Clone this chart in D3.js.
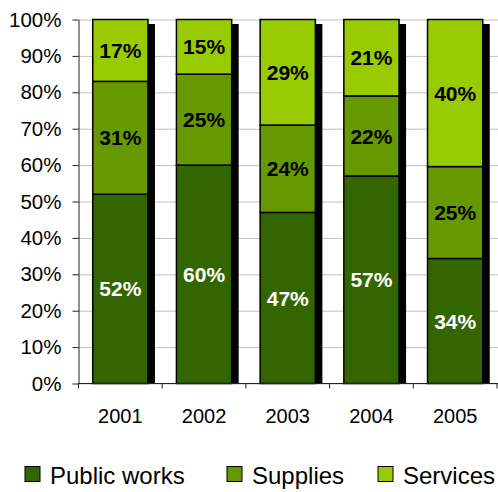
<!DOCTYPE html>
<html>
<head>
<meta charset="utf-8">
<script src="https://cdn.jsdelivr.net/npm/d3@7"></script>
<style>
  html, body { margin: 0; padding: 0; background: #fff; }
  svg { display: block; font-family: "Liberation Sans", Arial, sans-serif; }
</style>
</head>
<body>
<svg id="chart" width="498" height="492"></svg>
<script>
// Share of spending by category, per year (percent)
const years = ["2001", "2002", "2003", "2004", "2005"];
const publicWorks = [52, 60, 47, 57, 34];
const supplies = [31, 25, 24, 22, 25];
const services = [17, 15, 29, 21, 40];
const seriesNames = ["Public works", "Supplies", "Services"];
const seriesKeys = ["publicWorks", "supplies", "services"];
const yTickValues = [0, 0.1, 0.2, 0.3, 0.4, 0.5, 0.6, 0.7, 0.8, 0.9, 1];

const colors = ["#336600", "#669900", "#99cc00"];
const labelColors = ["#ffffff", "#000000", "#000000"];

const rows = years.map((year, i) => ({
  year,
  publicWorks: publicWorks[i],
  supplies: supplies[i],
  services: services[i]
}));

const svg = d3.select("#chart");
const plotLeft = 78.5, plotRight = 497, plotTop = 19.5, plotBottom = 383.5;

const x = d3.scaleBand().domain(years).range([plotLeft, plotRight])
  .paddingInner(0.34).paddingOuter(0.17);
const y = d3.scaleLinear().domain([0, 1]).range([plotBottom, plotTop]);

// 100% stacked layout
const stacked = d3.stack().keys(seriesKeys).offset(d3.stackOffsetExpand)(rows);

// horizontal gridlines
svg.append("g")
  .attr("transform", `translate(${plotLeft},0)`)
  .call(d3.axisLeft(y).tickValues(yTickValues).tickSize(-(498 - plotLeft)).tickFormat(""))
  .call(g => g.select(".domain").remove())
  .call(g => g.selectAll("line").attr("stroke", "#c0c0c0").attr("stroke-width", 1));

// bar drop shadows
const shadowDx = 7, shadowDy = 4.5;
svg.append("g")
  .selectAll("rect")
  .data(rows)
  .join("rect")
  .attr("x", d => x(d.year) + shadowDx)
  .attr("y", y(1) + shadowDy)
  .attr("width", x.bandwidth())
  .attr("height", y(0) - y(1) - shadowDy)
  .attr("fill", "#000");

// stacked segments
const layers = svg.append("g")
  .selectAll("g")
  .data(stacked)
  .join("g")
  .attr("fill", (d, i) => colors[i]);

layers.selectAll("rect")
  .data(d => d)
  .join("rect")
  .attr("x", d => x(d.data.year))
  .attr("y", d => y(d[1]))
  .attr("width", x.bandwidth())
  .attr("height", d => y(d[0]) - y(d[1]))
  .attr("stroke", "#000")
  .attr("stroke-width", 1.5);

// value labels
stacked.forEach((layer, li) => {
  svg.append("g")
    .selectAll("text")
    .data(layer)
    .join("text")
    .attr("x", d => x(d.data.year) + x.bandwidth() / 2)
    .attr("y", d => (y(d[0]) + y(d[1])) / 2)
    .attr("dy", "0.36em")
    .attr("text-anchor", "middle")
    .attr("font-size", 21)
    .attr("font-weight", "bold")
    .attr("fill", labelColors[li])
    .text(d => d.data[seriesKeys[li]] + "%");
});

// y axis
svg.append("g")
  .attr("transform", `translate(${plotLeft},0)`)
  .call(d3.axisLeft(y).tickValues(yTickValues).tickFormat(d3.format(".0%"))
    .tickSizeInner(6).tickSizeOuter(0).tickPadding(11))
  .call(g => g.select(".domain").attr("stroke", "#222"))
  .call(g => g.selectAll(".tick line").attr("stroke", "#222"))
  .call(g => g.selectAll("text").attr("font-size", 20.5).attr("fill", "#000")
    .attr("font-family", "'Liberation Sans', Arial, sans-serif"));

// x axis: category labels
svg.append("g")
  .attr("transform", `translate(0,${plotBottom})`)
  .call(d3.axisBottom(x).tickSizeInner(0).tickSizeOuter(0).tickPadding(25))
  .call(g => g.select(".domain").attr("stroke", "#222").attr("d", `M${plotLeft},0H498`))
  .call(g => g.selectAll("text").attr("font-size", 20).attr("fill", "#000")
    .attr("font-family", "'Liberation Sans', Arial, sans-serif"));

// x axis: tick marks between categories
const edges = d3.range(years.length + 1).map(i => x.range()[0] + i * x.step());
svg.append("g")
  .selectAll("line")
  .data(edges)
  .join("line")
  .attr("x1", d => Math.min(d, 497.5)).attr("x2", d => Math.min(d, 497.5))
  .attr("y1", plotBottom).attr("y2", plotBottom + 5)
  .attr("stroke", "#222");

// legend
const legendX = [25, 227, 378];
const legend = svg.append("g")
  .selectAll("g")
  .data(seriesNames)
  .join("g")
  .attr("transform", (d, i) => `translate(${legendX[i]},466.5)`);

legend.append("rect")
  .attr("width", 15).attr("height", 15)
  .attr("fill", (d, i) => colors[i])
  .attr("stroke", "#000").attr("stroke-width", 1);

legend.append("text")
  .attr("x", 25).attr("y", 17)
  .attr("font-size", 24)
  .attr("fill", "#000")
  .text(d => d);
</script>
</body>
</html>
